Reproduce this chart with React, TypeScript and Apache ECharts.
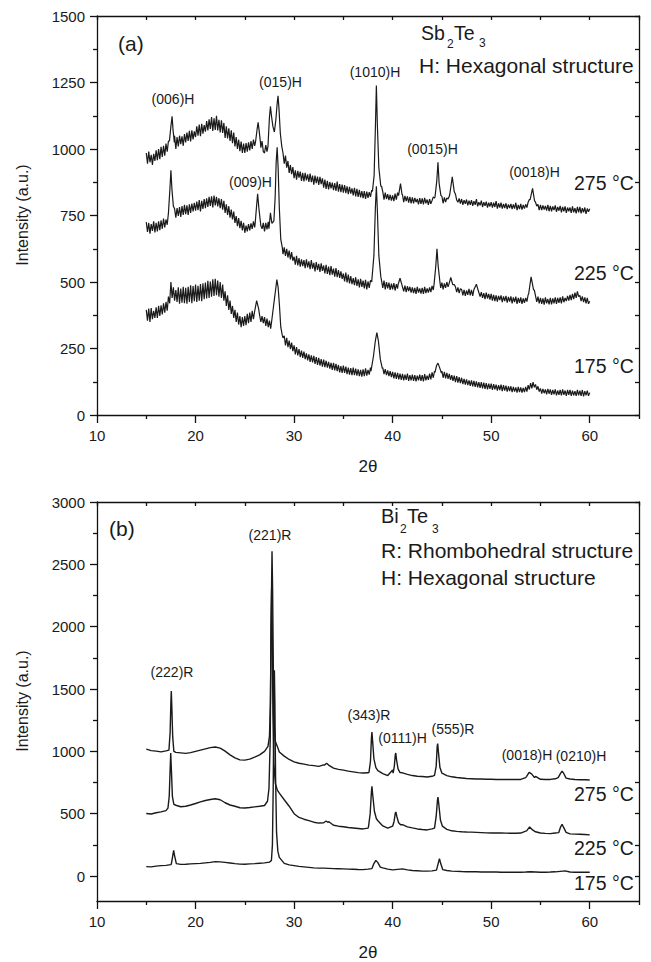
import React, { useEffect, useRef } from "react";
import * as echarts from "echarts";

// ---------- tick values ----------
const X_MAJOR = [10, 20, 30, 40, 50, 60];
const X_MINOR = [15, 25, 35, 45, 55, 65];
const X_TOP = [10, 15, 20, 25, 30, 35, 40, 45, 50, 55, 60, 65];
const YA_MAJOR = [0, 250, 500, 750, 1000, 1250, 1500];
const YA_MINOR = [125, 375, 625, 875, 1125, 1375];
const YA_RIGHT = [0, 125, 250, 375, 500, 625, 750, 875, 1000, 1125, 1250, 1375, 1500];
const YB_MAJOR = [0, 500, 1000, 1500, 2000, 2500, 3000];
const YB_MINOR = [250, 750, 1250, 1750, 2250, 2750];
const YB_RIGHT = [0, 250, 500, 750, 1000, 1250, 1500, 1750, 2000, 2250, 2500, 2750, 3000];

// ---------- panel (a) Sb2Te3: noisy traces read on a 0.125° grid from 15° to 60° (8 values per degree) ----------
const A_START = 15;
const A_STEP = 0.125;
const A275 = [
  985, 945, 990, 950, 978, 940, 982, 955,
  995, 958, 1000, 962, 1008, 970, 1012, 975,
  1020, 990, 1030, 1005, 1050, 1040, 1080, 1050,
  1000, 1045, 1010, 1050, 1018, 1048, 1012, 1056,
  1025, 1062, 1030, 1068, 1028, 1070, 1036, 1066,
  1045, 1085, 1050, 1092, 1048, 1095, 1058, 1090,
  1065, 1105, 1070, 1112, 1075, 1120, 1068, 1115,
  1072, 1125, 1070, 1110, 1062, 1108, 1060, 1098,
  1042, 1085, 1040, 1078, 1030, 1070, 1022, 1062,
  1010, 1045, 1000, 1035, 992, 1028, 985, 1020,
  985, 1022, 990, 1025, 995, 1030, 1000, 1035,
  1012, 1045, 1030, 1060, 1075, 1005, 1030, 990,
  985, 1015, 990, 1010, 1000, 1120, 1130, 1110,
  1065, 1100, 1120, 1170, 1150, 1090, 1010, 985,
  945, 975, 930, 955, 910, 940, 905, 932,
  890, 920, 885, 918, 892, 915, 880, 910,
  878, 910, 882, 905, 876, 908, 875, 900,
  866, 900, 872, 896, 865, 895, 868, 890,
  855, 885, 850, 880, 848, 876, 852, 874,
  845, 872, 842, 878, 840, 868, 838, 866,
  836, 864, 834, 860, 830, 858, 832, 852,
  826, 854, 822, 850, 820, 846, 818, 842,
  815, 842, 812, 840, 816, 838, 820, 845,
  850, 900, 1080, 1200, 1090, 930, 880, 860,
  840, 810, 836, 812, 830, 808, 828, 806,
  826, 804, 832, 810, 836, 815, 860, 870,
  828, 800, 824, 804, 822, 798, 820, 796,
  818, 796, 816, 800, 812, 792, 815, 794,
  814, 792, 816, 796, 810, 790, 812, 794,
  806, 820, 815, 880, 920, 900, 875, 840,
  822, 796, 818, 800, 816, 812, 822, 870,
  885, 880, 850, 830, 808, 800, 814, 795,
  812, 790, 808, 794, 810, 788, 806, 790,
  808, 786, 804, 790, 812, 784, 800, 788,
  806, 782, 800, 786, 802, 780, 798, 784,
  800, 780, 798, 782, 804, 776, 796, 780,
  798, 776, 794, 778, 796, 774, 792, 778,
  794, 774, 792, 776, 798, 770, 790, 774,
  794, 772, 790, 776, 792, 780, 800, 810,
  830, 845, 840, 810, 800, 785, 792, 770,
  790, 770, 788, 772, 786, 768, 790, 766,
  786, 766, 784, 770, 788, 764, 782, 768,
  786, 762, 782, 766, 784, 760, 780, 766,
  780, 760, 784, 762, 778, 758, 782, 762,
  782, 758, 778, 762, 780, 756, 776, 764,
  775,
];
const A275_PEAKS = [
  [[17.35, 1030], [17.5, 1085], [17.62, 1123], [17.72, 1070], [17.85, 1025]],
  [[26.1, 1030], [26.25, 1075], [26.35, 1100], [26.45, 1070], [26.6, 1020]],
  [[27.35, 1010], [27.5, 1120], [27.6, 1160], [27.72, 1120], [27.85, 1085], [28.0, 1064], [28.15, 1110], [28.28, 1170], [28.37, 1200], [28.47, 1150], [28.6, 1060], [28.75, 1010]],
  [[37.95, 840], [38.12, 900], [38.25, 1080], [38.35, 1239], [38.45, 1090], [38.6, 930], [38.8, 860]],
  [[40.6, 825], [40.8, 870], [40.95, 830]],
  [[44.3, 820], [44.48, 880], [44.6, 950], [44.72, 870], [44.9, 825]],
  [[45.8, 830], [46.05, 895], [46.25, 840]],
  [[53.95, 810], [54.2, 852], [54.4, 805]],
];

const A225 = [
  725, 688, 722, 682, 718, 692, 728, 686,
  722, 690, 728, 695, 732, 700, 738, 705,
  735, 715, 760, 740, 750, 800, 790, 775,
  742, 778, 748, 782, 745, 785, 752, 790,
  755, 788, 752, 792, 760, 795, 765, 798,
  768, 802, 770, 808, 765, 805, 775, 812,
  778, 815, 782, 820, 786, 822, 780, 825,
  788, 820, 784, 815, 778, 812, 772, 805,
  760, 792, 752, 785, 742, 772, 735, 765,
  722, 748, 710, 740, 702, 730, 694, 722,
  685, 712, 690, 718, 694, 720, 700, 728,
  705, 730, 760, 800, 780, 712, 700, 722,
  690, 722, 698, 726, 700, 760, 720, 730,
  730, 820, 950, 1000, 780, 660, 640, 605,
  630, 598, 625, 592, 618, 585, 612, 580,
  595, 565, 598, 562, 590, 558, 585, 560,
  582, 552, 585, 555, 578, 548, 582, 550,
  572, 540, 575, 545, 568, 538, 570, 542,
  562, 532, 565, 530, 558, 526, 560, 528,
  550, 520, 552, 518, 545, 515, 540, 512,
  532, 502, 535, 498, 528, 495, 522, 492,
  515, 488, 518, 485, 510, 480, 512, 482,
  505, 476, 508, 472, 502, 478, 506, 500,
  560, 700, 780, 800, 700, 600, 540, 505,
  478, 505, 472, 500, 476, 498, 470, 494,
  472, 496, 468, 492, 475, 500, 510, 500,
  488, 465, 486, 462, 484, 466, 482, 460,
  480, 458, 478, 455, 482, 460, 476, 456,
  478, 455, 482, 458, 476, 460, 480, 462,
  485, 470, 490, 540, 600, 560, 500, 478,
  498, 472, 495, 478, 500, 482, 505, 500,
  510, 490, 490, 482, 462, 480, 458, 475,
  472, 450, 470, 448, 468, 452, 474, 450,
  470, 448, 472, 480, 490, 470, 465, 445,
  462, 440, 458, 436, 460, 438, 455, 434,
  455, 430, 452, 428, 450, 426, 448, 432,
  450, 424, 446, 428, 448, 422, 444, 426,
  446, 420, 442, 424, 445, 418, 440, 422,
  442, 418, 438, 422, 440, 426, 452, 460,
  500, 510, 490, 470, 448, 425, 445, 420,
  440, 418, 438, 415, 442, 420, 436, 416,
  440, 416, 438, 420, 442, 418, 440, 422,
  442, 420, 446, 424, 440, 428, 448, 430,
  452, 432, 455, 436, 460, 440, 465, 445,
  450, 428, 446, 424, 442, 420, 440, 418,
  428,
];
const A225_PEAKS = [
  [[17.25, 760], [17.4, 850], [17.5, 920], [17.6, 850], [17.75, 785]],
  [[26.05, 720], [26.18, 780], [26.3, 832], [26.42, 780], [26.6, 720]],
  [[27.45, 700], [27.6, 760], [27.75, 720], [27.95, 730], [28.08, 820], [28.18, 950], [28.28, 1006], [28.38, 930], [28.5, 780], [28.65, 660], [28.8, 630]],
  [[37.9, 500], [38.1, 600], [38.25, 780], [38.35, 860], [38.45, 770], [38.6, 600], [38.8, 520]],
  [[40.55, 490], [40.75, 514], [40.95, 488]],
  [[44.2, 490], [44.38, 560], [44.5, 625], [44.62, 560], [44.8, 500]],
  [[45.7, 490], [45.9, 517], [46.1, 490]],
  [[48.3, 472], [48.5, 492], [48.7, 466]],
  [[53.8, 455], [54.05, 519], [54.3, 470]],
];

const A175 = [
  395, 355, 400, 350, 402, 360, 392, 365,
  405, 365, 410, 372, 412, 378, 420, 385,
  425, 392, 445, 420, 500, 440, 480, 430,
  470, 425, 480, 418, 475, 422, 482, 420,
  478, 418, 482, 425, 488, 420, 485, 428,
  490, 425, 486, 430, 492, 428, 495, 435,
  498, 438, 505, 440, 502, 445, 510, 448,
  512, 450, 505, 445, 500, 440, 490, 430,
  465, 410, 450, 395, 430, 380, 410, 365,
  395, 350, 385, 340, 372, 330, 368, 335,
  372, 338, 380, 345, 385, 350, 392, 360,
  395, 410, 430, 420, 375, 350, 372, 345,
  368, 335, 362, 330, 355, 325, 350, 400,
  420, 470, 509, 480, 420, 330, 300, 290,
  298, 262, 290, 255, 280, 248, 272, 240,
  262, 228, 255, 224, 248, 218, 242, 215,
  238, 210, 232, 205, 228, 200, 224, 198,
  222, 192, 218, 188, 215, 186, 210, 182,
  208, 180, 204, 178, 200, 174, 196, 170,
  196, 168, 192, 165, 188, 160, 184, 158,
  186, 158, 182, 154, 178, 152, 176, 150,
  178, 150, 174, 148, 172, 146, 170, 144,
  172, 146, 175, 148, 170, 152, 178, 160,
  220, 280, 300, 290, 250, 200, 180, 176,
  178, 154, 172, 150, 168, 146, 165, 142,
  162, 138, 160, 136, 158, 134, 156, 132,
  155, 130, 152, 132, 156, 128, 150, 130,
  152, 128, 150, 126, 148, 130, 152, 128,
  150, 126, 154, 130, 148, 132, 156, 134,
  160, 140, 165, 175, 190, 185, 170, 160,
  165, 140, 162, 138, 158, 136, 155, 132,
  150, 128, 148, 124, 146, 122, 142, 120,
  140, 116, 136, 114, 134, 112, 130, 110,
  130, 108, 128, 106, 126, 104, 124, 102,
  124, 100, 122, 98, 120, 96, 118, 98,
  118, 94, 116, 96, 114, 92, 112, 94,
  114, 90, 112, 92, 110, 88, 108, 90,
  108, 86, 106, 88, 104, 84, 106, 86,
  104, 84, 102, 86, 106, 88, 112, 96,
  120, 100, 124, 104, 115, 95, 108, 88,
  100, 80, 98, 82, 96, 78, 98, 80,
  96, 76, 94, 78, 96, 74, 92, 76,
  94, 74, 96, 76, 92, 72, 94, 76,
  94, 72, 92, 74, 90, 72, 94, 74,
  92, 72, 94, 70, 90, 74, 92, 72,
  84,
];
const A175_PEAKS = [
  [[26.0, 390], [26.2, 430], [26.4, 400]],
  [[27.75, 360], [27.95, 420], [28.12, 470], [28.25, 509], [28.38, 480], [28.5, 420], [28.65, 330], [28.8, 300]],
  [[37.8, 165], [38.05, 220], [38.25, 280], [38.4, 310], [38.55, 280], [38.75, 210], [38.95, 175]],
  [[44.3, 160], [44.45, 185], [44.6, 195], [44.75, 180], [44.95, 158]],
];

// ---------- panel (b) Bi2Te3: traces read on a 0.5° grid from 15° to 60° ----------
const B_START = 15;
const B_STEP = 0.5;
const B275 = [
  1018, 1006, 1002, 996, 1004, 1000, 992, 988, 984, 990,
  1000, 1010, 1020, 1030, 1035, 1026, 1002, 972, 948, 932,
  930, 938, 954, 972, 1000, 1040, 1060, 995, 962, 935,
  916, 905, 898, 890, 886, 880, 892, 898, 866, 856,
  850, 842, 836, 830, 826, 828, 900, 860, 822, 806,
  850, 835, 828, 815, 806, 800, 798, 795, 800, 900,
  820, 806, 796, 790, 786, 782, 780, 778, 778, 776,
  776, 775, 775, 774, 774, 774, 775, 790, 832, 800,
  776, 774, 775, 780, 830, 815, 778, 774, 772, 772,
  770,
];
const B275_PEAKS = [
  [[17.3, 1010], [17.42, 1150], [17.5, 1400], [17.54, 1484], [17.6, 1340], [17.68, 1120], [17.8, 1000]],
  [[27.35, 1040], [27.5, 1120], [27.6, 1400], [27.68, 2100], [27.76, 2604], [27.82, 2300], [27.9, 1600], [27.98, 1200], [28.1, 1080], [28.3, 1040]],
  [[33.1, 890], [33.3, 905], [33.5, 890]],
  [[37.6, 832], [37.75, 920], [37.85, 1110], [37.9, 1155], [37.97, 1080], [38.1, 940], [38.3, 870], [38.5, 845]],
  [[40.05, 825], [40.17, 880], [40.27, 975], [40.32, 987], [40.4, 930], [40.55, 860], [40.75, 830]],
  [[44.25, 808], [44.42, 880], [44.52, 1040], [44.57, 1062], [44.64, 1000], [44.8, 870], [45.0, 825]],
  [[53.6, 800], [53.85, 832], [54.1, 820], [54.4, 790]],
  [[56.8, 790], [57.05, 825], [57.2, 842], [57.35, 825], [57.6, 785]],
];

const B225 = [
  502, 498, 508, 515, 525, 560, 568, 556, 560, 570,
  582, 595, 606, 614, 620, 612, 588, 570, 560, 548,
  546, 550, 555, 560, 566, 590, 700, 665, 612, 560,
  500, 470, 456, 445, 432, 425, 428, 438, 408, 400,
  396, 390, 386, 382, 378, 384, 640, 450, 402, 385,
  400, 445, 412, 395, 386, 378, 373, 370, 378, 620,
  395, 375, 363, 358, 355, 353, 352, 350, 348, 346,
  345, 345, 345, 344, 343, 343, 345, 360, 394, 355,
  345, 342, 340, 345, 395, 380, 338, 336, 335, 333,
  330,
];
const B225_PEAKS = [
  [[17.2, 545], [17.33, 640], [17.42, 850], [17.48, 987], [17.55, 850], [17.65, 640], [17.8, 575]],
  [[27.3, 600], [27.45, 700], [27.58, 1100], [27.66, 2000], [27.72, 2305], [27.78, 2000], [27.85, 1300], [27.95, 900], [28.1, 740], [28.3, 690]],
  [[33.05, 428], [33.25, 442], [33.45, 430]],
  [[37.55, 395], [37.72, 500], [37.85, 680], [37.9, 720], [37.98, 650], [38.15, 520], [38.35, 460], [38.55, 440]],
  [[40.0, 400], [40.15, 440], [40.27, 505], [40.33, 514], [40.42, 480], [40.6, 430], [40.8, 412]],
  [[44.25, 385], [44.42, 480], [44.55, 610], [44.6, 634], [44.68, 580], [44.85, 450], [45.05, 400]],
  [[53.6, 362], [53.9, 394], [54.2, 370]],
  [[56.85, 348], [57.05, 395], [57.2, 415], [57.35, 390], [57.6, 350]],
];

const B175 = [
  76, 74, 80, 84, 86, 92, 98, 94, 95, 98,
  100, 102, 106, 110, 116, 114, 110, 105, 100, 96,
  95, 98, 100, 103, 106, 112, 130, 150, 102, 90,
  84, 78, 74, 70, 66, 64, 64, 62, 60, 59,
  58, 56, 55, 53, 52, 56, 90, 112, 66, 56,
  50, 54, 58, 50, 45, 43, 40, 40, 42, 65,
  55, 45, 40, 38, 36, 35, 35, 34, 33, 33,
  32, 32, 31, 30, 30, 30, 31, 32, 34, 33,
  31, 31, 32, 34, 38, 42, 33, 31, 30, 30,
  30,
];
const B175_PEAKS = [
  [[17.55, 100], [17.68, 160], [17.78, 207], [17.88, 160], [18.05, 100]],
  [[27.7, 125], [27.8, 250], [27.88, 700], [27.95, 1400], [28.0, 1650], [28.05, 1400], [28.12, 800], [28.22, 350], [28.35, 200], [28.5, 150]],
  [[37.9, 60], [38.1, 100], [38.3, 126], [38.5, 108], [38.75, 72]],
  [[44.45, 48], [44.62, 100], [44.75, 140], [44.88, 100], [45.08, 52]],
];

// ---------- annotation texts ----------
const A_PEAK_LABELS = ["(006)H", "(015)H", "(1010)H", "(009)H", "(0015)H", "(0018)H"];
const B_PEAK_LABELS = ["(221)R", "(222)R", "(343)R", "(0111)H", "(555)R", "(0018)H", "(0210)H"];
const TEMPS = ["275 °C", "225 °C", "175 °C"];
const Y_NAME = "Intensity (a.u.)";
const X_NAME = "2θ";

const FONT = "'Liberation Sans', Arial, Helvetica, sans-serif";
const INK = "#1a1a1a";
const AX = { color: "#111", width: 1.3 };

function build(start: number, step: number, base: number[], peaks: number[][][]) {
  const ranges = peaks.map((g) => [g[0][0], g[g.length - 1][0]]);
  const pts: number[][] = [];
  base.forEach((v, i) => {
    const x = +(start + i * step).toFixed(3);
    if (ranges.some(([a, b]) => x >= a && x <= b)) return;
    pts.push([x, v]);
  });
  peaks.forEach((g) => g.forEach((p) => pts.push([p[0], p[1]])));
  pts.sort((a, b) => a[0] - b[0]);
  return pts;
}

const plain = (v: number) => String(v);

function xAxesFor(g: number) {
  return [
    {
      type: "value", gridIndex: g, min: 10, max: 65, position: "bottom",
      axisLine: { show: true, onZero: false, lineStyle: AX },
      axisTick: { show: true, customValues: X_MAJOR, length: 8, lineStyle: AX },
      axisLabel: { show: true, customValues: X_MAJOR, margin: 13, fontSize: 15, color: INK, fontFamily: FONT, formatter: plain },
      splitLine: { show: false },
      name: X_NAME, nameLocation: "middle", nameGap: 43,
      nameTextStyle: { fontSize: 17, color: INK, fontFamily: FONT },
    },
    {
      type: "value", gridIndex: g, min: 10, max: 65, position: "bottom",
      axisLine: { show: false, onZero: false },
      axisTick: { show: true, customValues: X_MINOR, length: 4, lineStyle: AX },
      axisLabel: { show: false }, splitLine: { show: false },
    },
    {
      type: "value", gridIndex: g, min: 10, max: 65, position: "top",
      axisLine: { show: true, onZero: false, lineStyle: AX },
      axisTick: { show: true, inside: true, customValues: X_TOP, length: 4, lineStyle: AX },
      axisLabel: { show: false }, splitLine: { show: false },
    },
  ];
}

function yAxesFor(g: number, min: number, max: number, major: number[], minor: number[], right: number[]) {
  return [
    {
      type: "value", gridIndex: g, min, max, position: "left",
      axisLine: { show: true, onZero: false, lineStyle: AX },
      axisTick: { show: true, customValues: major, length: 7, lineStyle: AX },
      axisLabel: { show: true, customValues: major, margin: 12, fontSize: 15, color: INK, fontFamily: FONT, formatter: plain },
      splitLine: { show: false },
    },
    {
      type: "value", gridIndex: g, min, max, position: "left",
      axisLine: { show: false, onZero: false },
      axisTick: { show: true, customValues: minor, length: 4, lineStyle: AX },
      axisLabel: { show: false }, splitLine: { show: false },
    },
    {
      type: "value", gridIndex: g, min, max, position: "right",
      axisLine: { show: true, onZero: false, lineStyle: AX },
      axisTick: { show: true, inside: true, customValues: right, length: 4, lineStyle: AX },
      axisLabel: { show: false }, splitLine: { show: false },
    },
  ];
}

function txt(text: string, x: number, y: number, size: number, align = "left", rotation = 0) {
  return {
    type: "text", x, y, rotation, silent: true,
    style: { text, fontSize: size, fontFamily: FONT, fill: INK, align, verticalAlign: "middle" },
  };
}

function line(data: number[][], xi: number, yi: number, w: number) {
  return {
    type: "line", data, xAxisIndex: xi, yAxisIndex: yi, showSymbol: false, symbol: "none",
    lineStyle: { color: INK, width: w }, itemStyle: { color: INK }, silent: true, clip: true,
  };
}

export default function App() {
  const ref = useRef<HTMLDivElement>(null);
  useEffect(() => {
    document.body.style.margin = "0";
    const chart = echarts.init(ref.current!, null, { renderer: "svg" });
    const option = {
      animation: false,
      backgroundColor: "#fff",
      grid: [
        { left: 97, top: 16, right: 12, height: 399, outerBoundsMode: "none" },
        { left: 97, top: 502, right: 12, height: 399, outerBoundsMode: "none" },
      ],
      xAxis: [...xAxesFor(0), ...xAxesFor(1)],
      yAxis: [
        ...yAxesFor(0, 0, 1500, YA_MAJOR, YA_MINOR, YA_RIGHT),
        ...yAxesFor(1, -200, 3000, YB_MAJOR, YB_MINOR, YB_RIGHT),
      ],
      series: [
        line(build(A_START, A_STEP, A275, A275_PEAKS), 0, 0, 1.2),
        line(build(A_START, A_STEP, A225, A225_PEAKS), 0, 0, 1.2),
        line(build(A_START, A_STEP, A175, A175_PEAKS), 0, 0, 1.2),
        line(build(B_START, B_STEP, B275, B275_PEAKS), 3, 3, 1.4),
        line(build(B_START, B_STEP, B225, B225_PEAKS), 3, 3, 1.4),
        line(build(B_START, B_STEP, B175, B175_PEAKS), 3, 3, 1.4),
      ],
      graphic: [
        txt(Y_NAME, 22, 215, 16, "center", Math.PI / 2),
        txt(Y_NAME, 22, 701, 16, "center", Math.PI / 2),
        // panel (a)
        txt("(a)", 118, 43, 21),
        txt("Sb", 421, 33, 19.5),
        txt("2", 447, 44, 12),
        txt("Te", 454, 33, 19.5),
        txt("3", 479, 43, 12),
        txt("H: Hexagonal structure", 419, 65, 21),
        txt(A_PEAK_LABELS[0], 173, 99, 14, "center"),
        txt(A_PEAK_LABELS[1], 280.5, 82, 14, "center"),
        txt(A_PEAK_LABELS[2], 375, 72, 14, "center"),
        txt(A_PEAK_LABELS[3], 250.5, 182, 14, "center"),
        txt(A_PEAK_LABELS[4], 432.5, 149, 14, "center"),
        txt(A_PEAK_LABELS[5], 534.5, 172, 14, "center"),
        txt(TEMPS[0], 574, 183, 19.5),
        txt(TEMPS[1], 574, 273, 19.5),
        txt(TEMPS[2], 574, 366, 19.5),
        // panel (b)
        txt("(b)", 109, 528, 21),
        txt("Bi", 381, 516, 20),
        txt("2", 400, 529, 12),
        txt("Te", 407, 516, 20),
        txt("3", 432, 529, 12),
        txt("R: Rhombohedral structure", 381, 550, 21),
        txt("H: Hexagonal structure", 381, 577, 21),
        txt(B_PEAK_LABELS[0], 270, 535, 14, "center"),
        txt(B_PEAK_LABELS[1], 172, 672, 14, "center"),
        txt(B_PEAK_LABELS[2], 369, 715, 14, "center"),
        txt(B_PEAK_LABELS[3], 402.5, 738, 14, "center"),
        txt(B_PEAK_LABELS[4], 453, 729, 14, "center"),
        txt(B_PEAK_LABELS[5], 527, 755, 14, "center"),
        txt(B_PEAK_LABELS[6], 581, 756, 14, "center"),
        txt(TEMPS[0], 574, 794, 19.5),
        txt(TEMPS[1], 574, 848, 19.5),
        txt(TEMPS[2], 574, 883, 19.5),
      ],
    };
    chart.setOption(option as any);
    return () => chart.dispose();
  }, []);
  return (
    <div
      ref={ref}
      style={{ position: "absolute", left: 0, top: 0, width: 651, height: 962, background: "#fff" }}
    />
  );
}
